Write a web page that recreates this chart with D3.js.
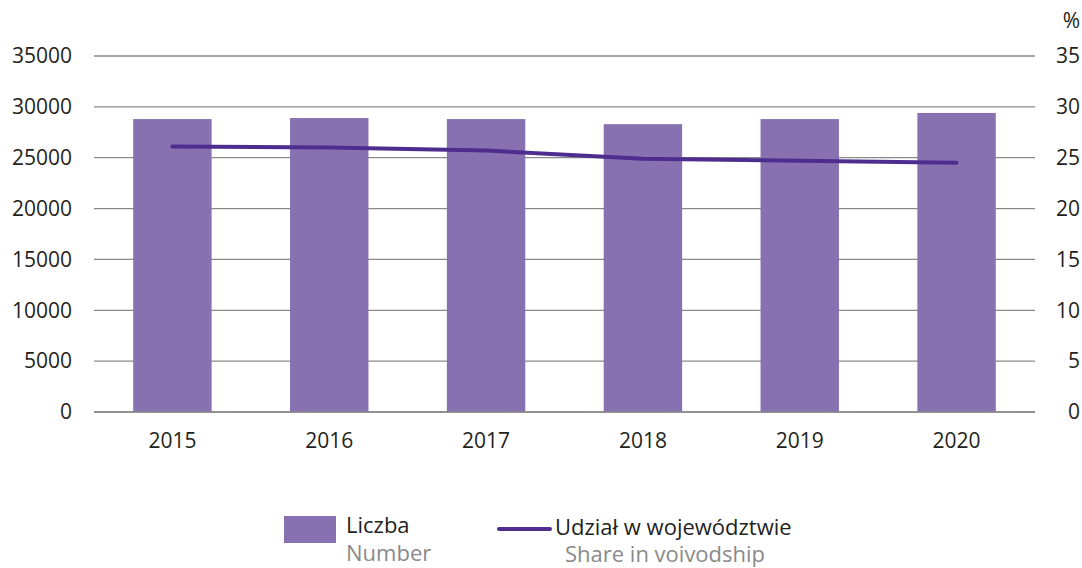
<!DOCTYPE html>
<html>
<head>
<meta charset="utf-8">
<script src="https://cdn.jsdelivr.net/npm/d3@7"></script>
<style>
  body { margin: 0; background: #fff; }
  text { font-family: "Open Sans", "Noto Sans", sans-serif; }
</style>
</head>
<body>
<div id="chart"></div>
<script>
// Chart data
const years = ["2015", "2016", "2017", "2018", "2019", "2020"];
const counts = [28800, 28900, 28800, 28300, 28800, 29400];
const shares = [26.1, 26.0, 25.7, 24.9, 24.7, 24.5];
const leftTicks = [0, 5000, 10000, 15000, 20000, 25000, 30000, 35000];
const rightTicks = [0, 5, 10, 15, 20, 25, 30, 35];

const width = 1082, height = 568;
const margin = { left: 94, right: 47, top: 56, bottom: 156 };
const barColor = "#8771b1";
const lineColor = "#4f2d8f";

const svg = d3.select("#chart")
  .append("svg")
  .attr("width", width)
  .attr("height", height);

const x = d3.scaleBand()
  .domain(years)
  .range([margin.left, width - margin.right])
  .paddingInner(0.5)
  .paddingOuter(0.25);

const yLeft = d3.scaleLinear().domain([0, 35000]).range([height - margin.bottom, margin.top]);
const yRight = d3.scaleLinear().domain([0, 35]).range([height - margin.bottom, margin.top]);

// grid lines
svg.append("g")
  .selectAll("line")
  .data(leftTicks)
  .join("line")
  .attr("x1", margin.left)
  .attr("x2", width - margin.right)
  .attr("y1", d => yLeft(d))
  .attr("y2", d => yLeft(d))
  .style("stroke", "#8a8a8a")
  .style("stroke-width", 1.3);

// left axis labels
svg.append("g")
  .selectAll("text")
  .data(leftTicks)
  .join("text")
  .attr("x", 72)
  .attr("y", d => yLeft(d))
  .attr("dy", "0.35em")
  .attr("text-anchor", "end")
  .style("font-size", "21px")
  .style("fill", "#231f20")
  .text(d => d);

// right axis labels
svg.append("g")
  .selectAll("text")
  .data(rightTicks)
  .join("text")
  .attr("x", 1080)
  .attr("y", d => yRight(d))
  .attr("dy", "0.35em")
  .attr("text-anchor", "end")
  .style("font-size", "21px")
  .style("fill", "#231f20")
  .text(d => d);

svg.append("text")
  .attr("x", 1080)
  .attr("y", 21)
  .attr("dy", "0.35em")
  .attr("text-anchor", "end")
  .style("font-size", "21px")
  .style("fill", "#231f20")
  .text("%");

// bars
svg.append("g")
  .selectAll("rect")
  .data(counts)
  .join("rect")
  .attr("x", (d, i) => x(years[i]))
  .attr("y", d => yLeft(d))
  .attr("width", x.bandwidth())
  .attr("height", d => yLeft(0) - yLeft(d))
  .style("fill", barColor);

// baseline over bars
svg.append("line")
  .attr("x1", margin.left)
  .attr("x2", width - margin.right)
  .attr("y1", yLeft(0))
  .attr("y2", yLeft(0))
  .style("stroke", "#8a8a8a")
  .style("stroke-width", 1.3);

// share line
const line = d3.line()
  .x((d, i) => x(years[i]) + x.bandwidth() / 2)
  .y(d => yRight(d));

svg.append("path")
  .datum(shares)
  .attr("d", line)
  .style("fill", "none")
  .style("stroke", lineColor)
  .style("stroke-width", 4)
  .style("stroke-linecap", "round")
  .style("stroke-linejoin", "round");

// year labels
svg.append("g")
  .selectAll("text")
  .data(years)
  .join("text")
  .attr("x", d => x(d) + x.bandwidth() / 2)
  .attr("y", 441)
  .attr("dy", "0.35em")
  .attr("text-anchor", "middle")
  .style("font-size", "21px")
  .style("fill", "#231f20")
  .text(d => d);

// legend
const legend = svg.append("g");
legend.append("rect")
  .attr("x", 284).attr("y", 516)
  .attr("width", 52).attr("height", 27)
  .style("fill", barColor);
legend.append("text")
  .attr("x", 346).attr("y", 525).attr("dy", "0.35em")
  .style("font-size", "22px").style("fill", "#231f20")
  .text("Liczba");
legend.append("text")
  .attr("x", 346).attr("y", 553).attr("dy", "0.35em")
  .style("font-size", "22px").style("fill", "#8a8a8a")
  .text("Number");

legend.append("line")
  .attr("x1", 499).attr("x2", 550)
  .attr("y1", 529).attr("y2", 529)
  .style("stroke", lineColor)
  .style("stroke-width", 4)
  .style("stroke-linecap", "round");
legend.append("text")
  .attr("x", 555).attr("y", 527).attr("dy", "0.35em")
  .style("font-size", "22px").style("fill", "#231f20")
  .text("Udział w województwie");
legend.append("text")
  .attr("x", 565).attr("y", 554).attr("dy", "0.35em")
  .style("font-size", "22px").style("fill", "#8a8a8a")
  .text("Share in voivodship");
</script>
</body>
</html>
